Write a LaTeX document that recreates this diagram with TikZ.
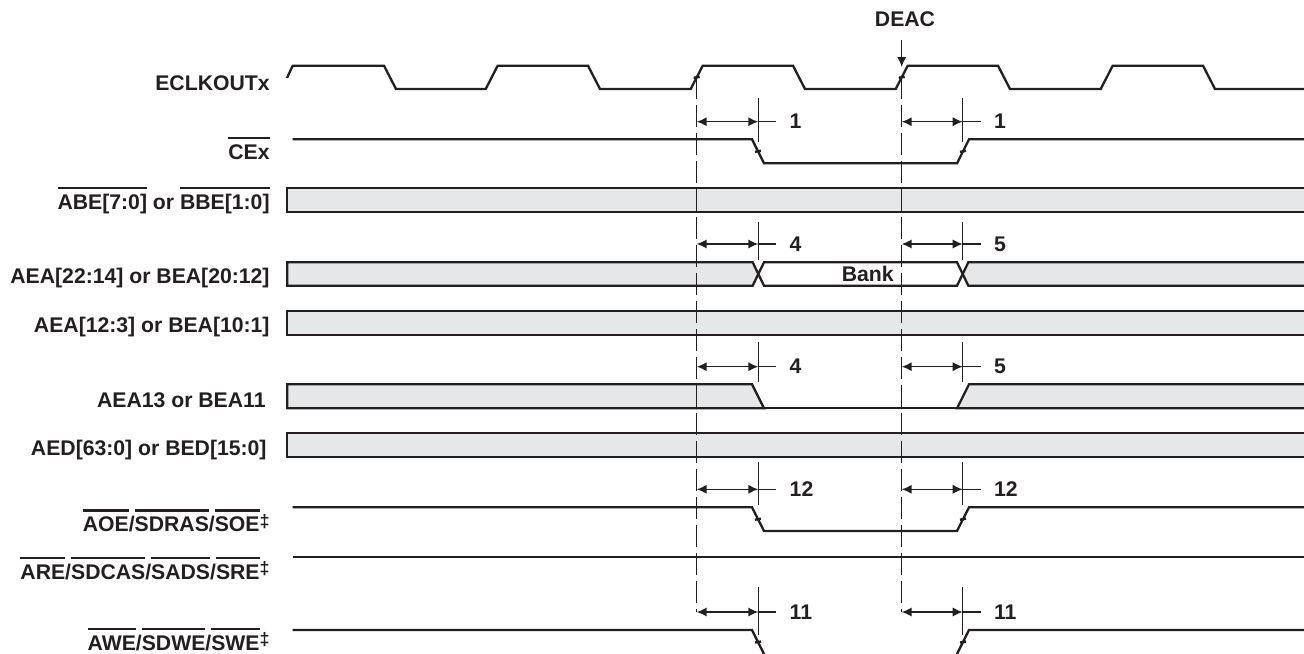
\documentclass[tikz,border=0pt]{standalone}
\usepackage{fontspec}
\setmainfont{Liberation Sans}
\usepackage{xcolor}
\usepackage{tikz}
\usetikzlibrary{arrows.meta}

% 上划线(低有效信号)
\newcommand{\ovl}[1]{\setbox0\hbox{#1}\rlap{\rule[10pt]{\wd0}{1.2pt}}\box0\relax}
\newcommand{\ddg}{\raisebox{2.2pt}{\fontsize{9}{9}\selectfont ‡}}

\begin{document}
\begin{tikzpicture}[x=0.5pt,y=-0.5pt,
    sig/.style={draw=ink,line width=1.15pt,line join=miter},
    bus/.style={draw=ink,line width=1.15pt,fill=busgray},
    guide/.style={draw=ink,line width=0.75pt,dash pattern=on 11pt off 3pt},
    dly/.style={draw=ink,line width=0.75pt,{Latex[length=5pt,width=4.6pt]}-{Latex[length=5pt,width=4.6pt]}},
    lbl/.style={font=\bfseries\fontsize{10.6}{12}\selectfont,text=ink,inner sep=0pt}]
				% 颜色列表
				\definecolor{ink}{RGB}{35,31,32}
				\definecolor{busgray}{RGB}{230,231,232}
				\useasboundingbox (0,0) rectangle (1304,653);
				\clip (0,0) rectangle (1304,653);
				
				% 信号名称
				\node[lbl,anchor=base east] (lclk) at (270,90.7) {ECLKOUTx};
				\node[lbl,anchor=base east] (lce) at (270,159.3) {\ovl{CEx}};
				\node[lbl,anchor=base east] (lbe) at (270,209) {\ovl{ABE[7:0]} or \ovl{BBE[1:0]}};
				\node[lbl,anchor=base east] (lbank) at (270,283.3) {AEA[22:14] or BEA[20:12]};
				\node[lbl,anchor=base east] (laddr) at (270,332.5) {AEA[12:3] or BEA[10:1]};
				\node[lbl,anchor=base east] (la13) at (266,407) {AEA13 or BEA11};
				\node[lbl,anchor=base east] (ldata) at (267,455) {AED[63:0] or BED[15:0]};
				\node[lbl,anchor=base east] (loe) at (270,531.5) {\ovl{AOE}/\ovl{SDRAS}/\ovl{SOE}\ddg};
				\node[lbl,anchor=base east] (lre) at (270,579) {\ovl{ARE}/\ovl{SDCAS}/\ovl{SADS}/\ovl{SRE}\ddg};
				\node[lbl,anchor=base east] (lwe) at (270,650) {\ovl{AWE}/\ovl{SDWE}/\ovl{SWE}\ddg};
				
				% 时钟
				\draw[sig] (287,78) -- (292.7,65.7) -- (384,65.7) -- (396,89)
				foreach \r in {485.7,690.7,895.7,1100.7} {
				-- (\r,89) -- ({\r+12},65.7) -- ({\r+102.3},65.7) -- ({\r+114.3},89) } -- (1310,89);
				
				% DEAC
				\coordinate (edge2) at (901.7,67);
				\node[lbl,anchor=base] (deac) at (905,26.7) {DEAC};
				\draw[draw=ink,line width=0.75pt,-{Latex[length=5pt,width=4.6pt]}] ([yshift=-6.5pt]deac.south -| edge2) -- (edge2);
				
				% 单线信号
				\draw[sig] (292.7,139.3) -- (752,139.3) -- (764,163.3) -- (957,163.3) -- (969,139.3) -- (1310,139.3);
				\draw[sig] (292.7,507.3) -- (752,507.3) -- (764,531) -- (957,531) -- (969,507.3) -- (1310,507.3);
				\draw[sig] (292.7,556.7) -- (1310,556.7);
				\draw[sig] (292.7,630) -- (752,630) -- (765,656) -- (956,656) -- (969,630) -- (1310,630);
				
				% 总线
				\foreach \t/\b in {188.3/212.3, 310.7/335, 433.3/456.7}
				\draw[bus] (1310,\t) -- (287.3,\t) -- (287.3,\b) -- (1310,\b);
				
				\draw[bus] (758.3,274) -- (752.7,262.3) -- (287.3,262.3) -- (287.3,285.7) -- (752.7,285.7) -- cycle;
				\draw[sig,fill=white] (758.3,274) -- (764,262.3) -- (957,262.3) -- (962.7,274) -- (957,285.7) -- (764,285.7) -- cycle;
				\draw[bus] (1310,262.3) -- (968.3,262.3) -- (962.7,274) -- (968.3,285.7) -- (1310,285.7);
				\node[lbl,anchor=base] (bank) at (867.7,281.7) {Bank};
				
				\draw[bus] (287.3,384.3) -- (752,384.3) -- (764,408.3) -- (287.3,408.3) -- cycle;
				\draw[sig] (764,408.3) -- (957,408.3);
				\draw[bus] (1310,384.3) -- (969,384.3) -- (957,408.3) -- (1310,408.3);
				
				% 参考虚线
				\foreach \g in {696.7,901.7}
				\draw[guide] (\g,77.3) -- (\g,612);
				
				% 边沿小标记
				\foreach \x/\y in {696.7/77.3, 901.7/77.3, 758/151.3, 963/151.3, 758/519.2, 963/519.2, 758/642, 963/642}
				\draw[draw=ink,line width=1.2pt] ({\x-3},{\y+0.5}) -- ({\x+3},{\y-0.5});
				
				% 时序参数
				\foreach \y/\a/\b/\la/\lb [count=\i] in {121.7/98/142/1/1, 244/222/260/4/5, 366.7/342/382/4/5, 489.3/462/505/12/12, 612/587/635/11/11}
				\foreach \g/\t/\l [count=\j] in {696.7/758.3/\la, 901.7/962.7/\lb} {
				\draw[draw=ink,line width=0.75pt] (\t,\a) -- (\t,\b);
				\draw[draw=ink,line width=0.75pt] (\t,\y) -- ({\t+18},\y);
				\draw[dly] (\g,\y) -- (\t,\y);
				\node[lbl,anchor=west] (p\i\j) at ({\t+31},\y) {\l};
				}
				
			\end{tikzpicture}
\end{document}
